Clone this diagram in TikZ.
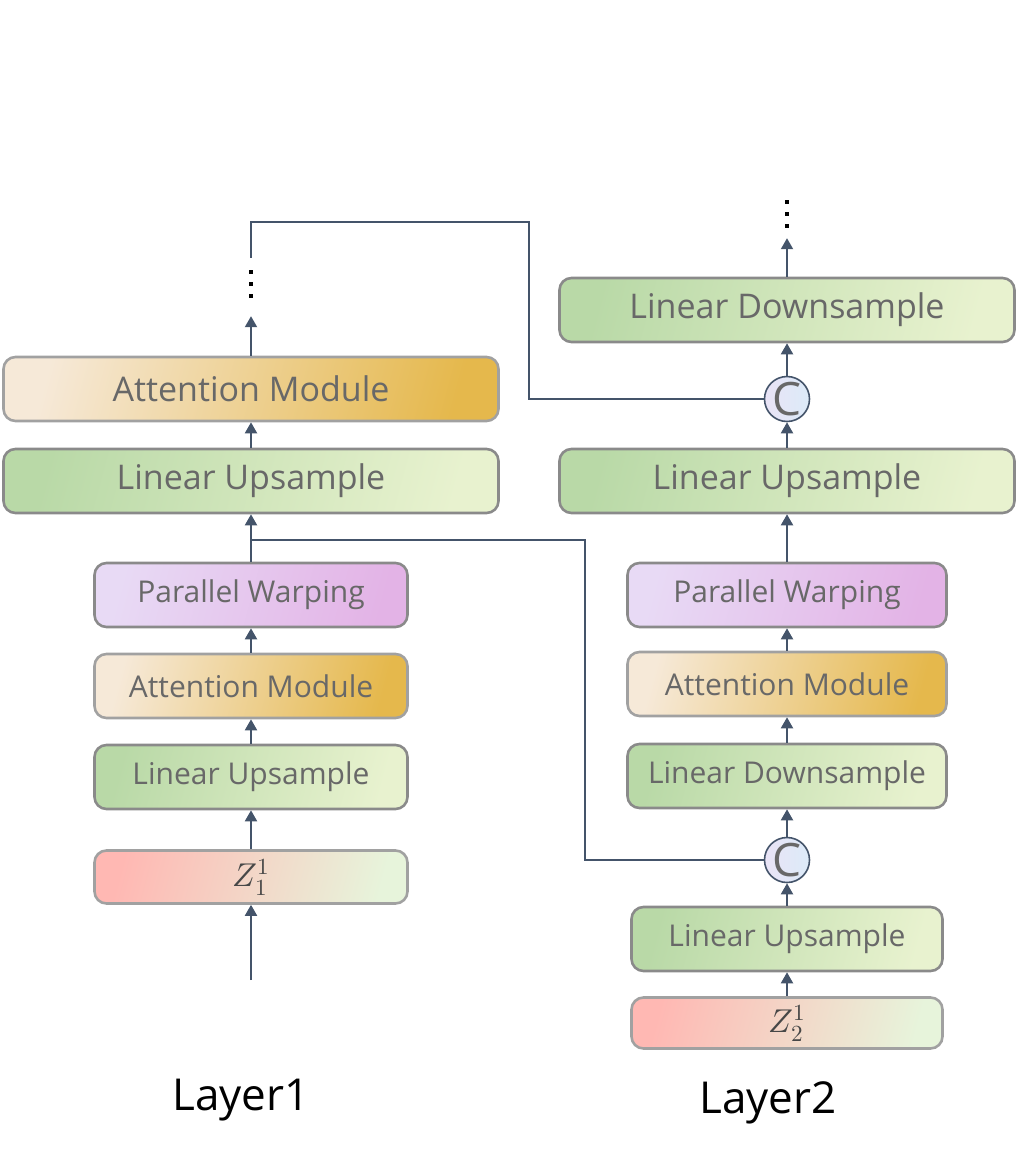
\documentclass[tikz,border=0pt]{standalone}
\usepackage{fontspec}
\usepackage{unicode-math}
\setmainfont{Open Sans}
\setmathfont{Latin Modern Math}
\usepackage{xcolor}
\usetikzlibrary{positioning,arrows.meta,shapes,calc}
\definecolor{arrowSlate}{HTML}{44546A}
\definecolor{boxGray}{HTML}{8A8A8A}
\definecolor{textGray}{HTML}{686868}
\definecolor{linGreenL}{HTML}{B9D9A7}
\definecolor{linGreenR}{HTML}{E8F2CF}
\definecolor{attnL}{HTML}{F6E9D8}
\definecolor{attnR}{HTML}{E5B84C}
\definecolor{warpL}{HTML}{E8DAF5}
\definecolor{warpR}{HTML}{E3B3E6}
\definecolor{zL}{HTML}{FFB8B3}
\definecolor{zR}{HTML}{E7F4DB}
\definecolor{catL}{HTML}{E9E3F6}
\definecolor{catR}{HTML}{DCEBF8}

\begin{document}
\begin{tikzpicture}[x=1pt,y=-1pt,
      blk/.style={draw=boxGray,line width=2.6pt,rounded corners=12pt,text=textGray,inner sep=0pt,minimum height=64pt},
      wide/.style={blk,minimum width=495pt,font=\fontsize{34}{40}\selectfont},
      narrow/.style={blk,minimum width=313pt,font=\fontsize{30}{36}\selectfont},
      lin/.style={left color=linGreenL,right color=linGreenR,shading angle=75},
      attn/.style={left color=attnL,right color=attnR,shading angle=75,draw=boxGray!80},
      warp/.style={left color=warpL,right color=warpR,shading angle=75},
      zin/.style={left color=zL,right color=zR,shading angle=75,draw=boxGray!80,minimum height=53pt,text=black!72,font=\fontsize{33}{36}\selectfont},
      cat/.style={circle,draw=arrowSlate,line width=1.6pt,minimum size=45pt,inner sep=0pt,left color=catL,right color=catR,text=textGray,font=\fontsize{46}{46}\selectfont},
      dotcol/.style={inner sep=0pt,minimum width=6pt},
      flow/.style={-{Triangle[length=11pt,width=12pt]},line width=2pt,arrowSlate},
      skip/.style={line width=1.6pt,arrowSlate},
      layer/.style={font=\fontsize{44}{50}\selectfont}
    ]
    \useasboundingbox (0,0) rectangle (1017,1159);

    % Layer1 column
    \node[narrow,zin] (zOneL) at (251,877) {$Z_1^1$};
    \node[narrow,lin] (upL) at (251,777) {Linear Upsample};
    \node[narrow,attn] (attnL) at (251,686) {Attention Module};
    \node[narrow,warp] (warpL) at (251,595) {Parallel Warping};
    \node[wide,lin] (upTopL) at (251,481) {Linear Upsample};
    \node[wide,attn] (attnTopL) at (251,389) {Attention Module};
    \node[dotcol,minimum height=58pt] (dotsL) at (251,287) {};
    \coordinate (inL) at (251,980);

    % Layer2 column
    \node[narrow,zin,minimum width=311pt,minimum height=51pt] (zOneR) at (787,1023) {$Z_2^1$};
    \node[narrow,lin,minimum width=311pt] (upR) at (787,939) {Linear Upsample};
    \node[cat] (catR) at (787,860) {C};
    \node[narrow,lin,minimum width=319pt] (downR) at (787,776) {Linear Downsample};
    \node[narrow,attn,minimum width=319pt] (attnR) at (787,684) {Attention Module};
    \node[narrow,warp,minimum width=319pt] (warpR) at (787,595) {Parallel Warping};
    \node[wide,lin,minimum width=455pt] (upTopR) at (787,481) {Linear Upsample};
    \node[cat] (catTopR) at (787,399) {C};
    \node[wide,lin,minimum width=455pt] (downTopR) at (787,310) {Linear Downsample};
    \node[dotcol,minimum height=42pt] (dotsR) at (787,217) {};

    \foreach \n in {dotsL,dotsR}
      \foreach \d in {-15,-3,9}
        \fill ($(\n.center)+(-2,\d-2)$) rectangle ++(4,4);

    \node[layer] (layerOne) at (241,1100) {Layer1};
    \node[layer] (layerTwo) at (768,1103) {Layer2};

    % main flow
    \draw[flow] (inL) -- (zOneL);
    \draw[flow] (zOneL) -- (upL);
    \draw[flow] (upL) -- (attnL);
    \draw[flow] (attnL) -- (warpL);
    \draw[flow] (warpL) -- (upTopL);
    \draw[flow] (upTopL) -- (attnTopL);
    \draw[flow] (attnTopL) -- (dotsL);

    \draw[flow] (zOneR) -- (upR);
    \draw[flow] (upR) -- (catR);
    \draw[flow] (catR) -- (downR);
    \draw[flow] (downR) -- (attnR);
    \draw[flow] (attnR) -- (warpR);
    \draw[flow] (warpR) -- (upTopR);
    \draw[flow] (upTopR) -- (catTopR);
    \draw[flow] (catTopR) -- (downTopR);
    \draw[flow] (downTopR) -- (dotsR);

    % cross-layer links
    \coordinate (splitL) at (251,540);
    \coordinate (bendL) at (585,540);
    \coordinate (hopL) at (529,222);
    \draw[skip] (splitL) -- (bendL) |- (catR.west);
    \draw[skip] (dotsL.north) |- (hopL) |- (catTopR.west);
  \end{tikzpicture}
\end{document}
